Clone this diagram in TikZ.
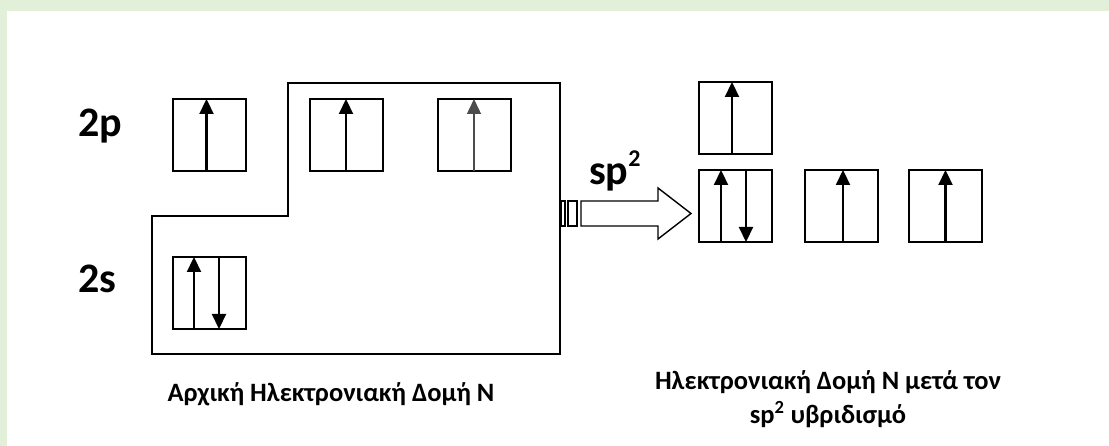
\documentclass[tikz,border=0pt]{standalone}
\usepackage{fontspec}
\setmainfont{Carlito}
\usetikzlibrary{arrows.meta}
\definecolor{bandgreen}{HTML}{E2EFD9}
\begin{document}
\begin{tikzpicture}[x=1pt,y=-1pt,
  orb/.style={draw, line width=2pt, minimum width=73pt, minimum height=72pt, inner sep=0pt, outer sep=0pt},
  spinup/.style={line width=2.2pt, -{Triangle[width=14pt,length=15pt]}},
  thinspin/.style={line width=1.4pt, draw=black!70, -{Triangle[width=14pt,length=15pt]}},
  lbl/.style={font=\bfseries\fontsize{42}{50}\selectfont, inner sep=0pt, anchor=base west},
  captext/.style={font=\bfseries\fontsize{26.5}{34}\selectfont, inner sep=0pt, align=center, anchor=base},
  outline/.style={line width=2pt},
  blockarrow/.style={line width=1.4pt, line join=miter},
]
\useasboundingbox (0,0) rectangle (1109,446);
\fill[bandgreen] (0,0) rectangle (1109,11);
\fill[bandgreen] (0,0) rectangle (7,446);

% enclosing outline
\draw[outline] (152,216) -- (288,216) -- (288,83) -- (560,83) -- (560,354) -- (152,354) -- cycle;

% initial configuration
\node[orb] (p1) at (209.5,135) {};
\node[orb] (p2) at (346,135) {};
\node[orb] (p3) at (474,135) {};
\node[orb] (s1) at (209.5,293) {};

\draw[spinup] ([xshift=-3pt]p1.south) -- ([xshift=-3pt]p1.north);
\draw[spinup] (p2.south) -- (p2.north);
\draw[thinspin] (p3.south) -- (p3.north);
\draw[spinup] ([xshift=-15.5pt]s1.south) -- ([xshift=-15.5pt]s1.north);
\draw[spinup] ([xshift=9.5pt]s1.north) -- ([xshift=9.5pt]s1.south);

% hybridised configuration
\node[orb] (h0) at (735.5,118) {};
\node[orb] (h1) at (735.5,206) {};
\node[orb] (h2) at (841.5,206) {};
\node[orb] (h3) at (945.5,206) {};

\draw[spinup] ([xshift=-3.5pt]h0.south) -- ([xshift=-3.5pt]h0.north);
\draw[spinup] ([xshift=-14.5pt]h1.south) -- ([xshift=-14.5pt]h1.north);
\draw[spinup] ([xshift=10.5pt]h1.north) -- ([xshift=10.5pt]h1.south);
\draw[spinup] ([xshift=1.5pt]h2.south) -- ([xshift=1.5pt]h2.north);
\draw[spinup] (h3.south) -- (h3.north);

% block arrow
\draw[blockarrow] (561,201) rectangle (565,226);
\draw[blockarrow] (568,201) rectangle (577,226);
\draw[blockarrow] (581,201) -- (658,201) -- (658,188) -- (691,213.5) -- (658,239) -- (658,226) -- (581,226) -- cycle;

% labels
\node[lbl] (l2p) at (78,137) {2p};
\node[lbl] (l2s) at (78,293) {2s};
\node[lbl] (lsp) at (589,185) {sp\raisebox{18pt}{\fontsize{24}{24}\selectfont 2}};

\node[captext] (c1) at (331,402) {Αρχική Ηλεκτρονιακή Δομή Ν};
\node[captext] (c2) at (828,423) {Ηλεκτρονιακή Δομή Ν μετά τον\\sp\textsuperscript{2} υβριδισμό};
\end{tikzpicture}
\end{document}
